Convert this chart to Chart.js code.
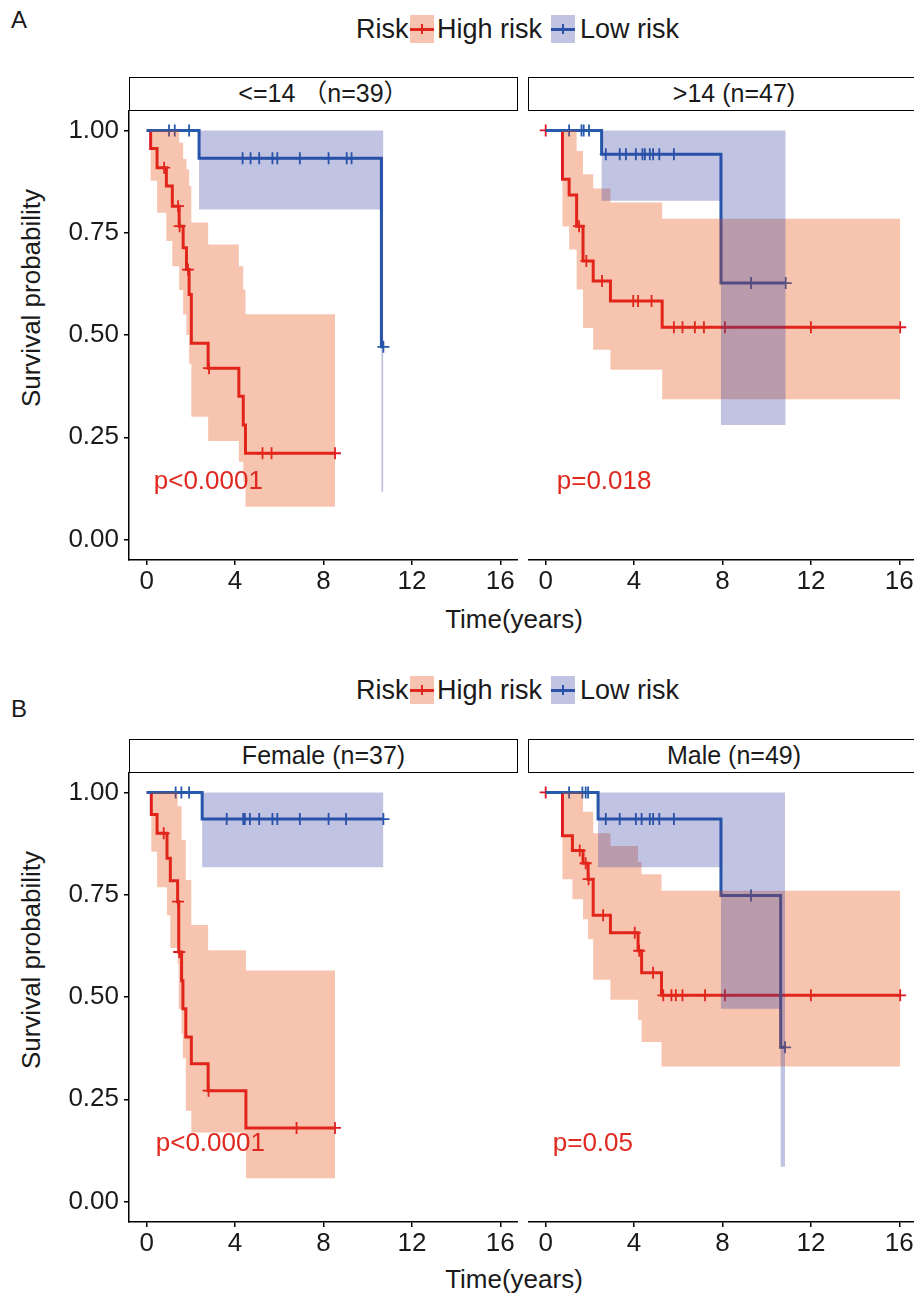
<!DOCTYPE html>
<html><head><meta charset="utf-8">
<script src="https://cdn.jsdelivr.net/npm/chart.js@4.4.1/dist/chart.umd.min.js"></script>
<style>
html,body{margin:0;padding:0;width:914px;height:1297px;overflow:hidden;background:#fff;
  font-family:"Liberation Sans",Arial,"Noto Sans CJK SC",sans-serif;color:#1a1a1a}
.abs{position:absolute;white-space:nowrap}
canvas{position:absolute}
.strip{position:absolute;border:1.5px solid #000;box-sizing:border-box;text-align:center;
  font-size:25px;line-height:31px;background:#fff;white-space:nowrap}
.key{position:absolute;width:24px;height:28px}
.key .ln{position:absolute;left:0;right:0;top:12.5px;height:3px}
.key .vt{position:absolute;left:11px;width:2px;top:9px;height:10px}
.ytitle{position:absolute;font-size:26px;white-space:nowrap;transform:translate(-50%,-50%) rotate(-90deg)}
.xtitle{position:absolute;font-size:26px;white-space:nowrap;transform:translate(-50%,-50%)}
.leg{position:absolute;font-size:27px;line-height:30px;white-space:nowrap}
</style>
</head><body>

<div class="abs" style="left:11px;top:7px;font-size:24px;line-height:26px">A</div>
<div class="abs" style="left:11px;top:696px;font-size:24px;line-height:26px">B</div>

<div class="leg" style="left:356px;top:14px">Risk</div>
<div class="key" style="left:410px;top:15px;background:#F7C4B1"><div class="ln" style="background:#E0281E"></div><div class="vt" style="background:#E0281E"></div></div>
<div class="leg" style="left:437px;top:14px">High risk</div>
<div class="key" style="left:551px;top:15px;background:#C0C4E2"><div class="ln" style="background:#2952A8"></div><div class="vt" style="background:#2952A8"></div></div>
<div class="leg" style="left:580px;top:14px">Low risk</div>

<div class="leg" style="left:356px;top:675px">Risk</div>
<div class="key" style="left:410px;top:676px;background:#F7C4B1"><div class="ln" style="background:#E0281E"></div><div class="vt" style="background:#E0281E"></div></div>
<div class="leg" style="left:437px;top:675px">High risk</div>
<div class="key" style="left:551px;top:676px;background:#C0C4E2"><div class="ln" style="background:#2952A8"></div><div class="vt" style="background:#2952A8"></div></div>
<div class="leg" style="left:580px;top:675px">Low risk</div>

<canvas id="cAL" width="459" height="490" style="left:59px;top:110px"></canvas>
<canvas id="cAR" width="389" height="490" style="left:528px;top:110px"></canvas>
<canvas id="cBL" width="459" height="490" style="left:59px;top:772px"></canvas>
<canvas id="cBR" width="389" height="490" style="left:528px;top:772px"></canvas>

<div class="strip" style="left:129px;top:77px;width:389px;height:34px">&lt;=14 （n=39）</div>
<div class="strip" style="left:528px;top:77px;width:412px;height:34px">&gt;14 (n=47)</div>
<div class="strip" style="left:129px;top:739px;width:389px;height:34px">Female (n=37)</div>
<div class="strip" style="left:528px;top:739px;width:412px;height:34px">Male (n=49)</div>

<div class="ytitle" style="left:31px;top:298px">Survival probability</div>
<div class="ytitle" style="left:31px;top:960px">Survival probability</div>
<div class="xtitle" style="left:514px;top:619px">Time(years)</div>
<div class="xtitle" style="left:514px;top:1279px">Time(years)</div>

<script>
// ---------- tick labels ----------
const X_TICKS = [0, 4, 8, 12, 16];
const Y_TICKS = [0, 0.25, 0.5, 0.75, 1];

// ---------- Panel A, <=14 (n=39) ----------
const aLLowTime   = [0, 2.37, 10.62, 10.71];
const aLLowSurv   = [1, 0.932, 0.471, 0.471];
const aLLowUpper  = [1, 1, 1, 1];
const aLLowLower  = [1, 0.807, 0.117, 0.117];
const aLLowCensor = [1.01, 1.27, 1.92, 4.34, 4.70, 5.09, 5.69, 5.91, 6.93, 8.23, 9.05, 9.27, 10.71];

const aLHighTime   = [0, 0.18, 0.47, 0.89, 1.16, 1.47, 1.65, 1.80, 1.92, 2.02, 2.78, 4.17, 4.37, 4.47, 8.52];
const aLHighSurv   = [1, 0.956, 0.909, 0.864, 0.815, 0.766, 0.713, 0.660, 0.599, 0.480, 0.419, 0.350, 0.280, 0.211, 0.211];
const aLHighUpper  = [1, 1, 1, 1, 1, 0.97, 0.93, 0.905, 0.864, 0.775, 0.721, 0.668, 0.611, 0.551, 0.551];
const aLHighLower  = [1, 0.877, 0.799, 0.730, 0.668, 0.61, 0.55, 0.50, 0.43, 0.30, 0.241, 0.19, 0.14, 0.080, 0.080];
const aLHighCensor = [0.79, 1.42, 1.49, 1.87, 2.82, 5.24, 5.65, 8.52];

// ---------- Panel A, >14 (n=47) ----------
const aRLowTime   = [0, 2.53, 7.93, 10.86];
const aRLowSurv   = [1, 0.942, 0.627, 0.627];
const aRLowUpper  = [1, 1, 1, 1];
const aRLowLower  = [1, 0.828, 0.280, 0.280];
const aRLowCensor = [1.06, 1.62, 1.72, 1.96, 2.72, 3.35, 3.63, 4.08, 4.38, 4.49, 4.71, 4.86, 5.14, 5.80, 9.29, 10.86];

const aRHighTime   = [0, 0.76, 1.06, 1.40, 1.69, 2.15, 2.93, 5.27, 16.04];
const aRHighSurv   = [1, 0.881, 0.842, 0.766, 0.681, 0.632, 0.583, 0.519, 0.519];
const aRHighUpper  = [1, 1, 1, 0.95, 0.893, 0.858, 0.824, 0.784, 0.784];
const aRHighLower  = [1, 0.765, 0.709, 0.611, 0.517, 0.464, 0.415, 0.343, 0.343];
const aRHighCensor = [0, 1.51, 1.84, 2.55, 3.96, 4.18, 4.79, 5.80, 6.19, 6.75, 7.16, 8.11, 12.0, 16.04];

// ---------- Panel B, Female (n=37) ----------
const bLLowTime   = [0, 2.51, 10.71];
const bLLowSurv   = [1, 0.935, 0.935];
const bLLowUpper  = [1, 1, 1];
const bLLowLower  = [1, 0.817, 0.817];
const bLLowCensor = [1.31, 1.57, 1.92, 3.62, 4.37, 4.44, 4.67, 5.09, 5.69, 5.91, 6.93, 8.23, 9.02, 10.71];

const bLHighTime   = [0, 0.21, 0.47, 0.92, 1.07, 1.40, 1.45, 1.58, 1.64, 1.77, 2.02, 2.78, 4.49, 8.52];
const bLHighSurv   = [1, 0.946, 0.900, 0.839, 0.784, 0.733, 0.610, 0.540, 0.471, 0.402, 0.337, 0.271, 0.180, 0.180];
const bLHighUpper  = [1, 1, 1, 1, 1, 0.966, 0.966, 0.884, 0.884, 0.786, 0.676, 0.614, 0.565, 0.565];
const bLHighLower  = [1, 0.855, 0.768, 0.70, 0.62, 0.58, 0.47, 0.41, 0.35, 0.222, 0.169, 0.169, 0.057, 0.057];
const bLHighCensor = [0.77, 1.42, 1.47, 2.80, 6.78, 8.52];

// ---------- Panel B, Male (n=49) ----------
const bRLowTime   = [0, 2.37, 7.93, 10.63, 10.83];
const bRLowSurv   = [1, 0.935, 0.748, 0.377, 0.377];
const bRLowUpper  = [1, 1, 1, 1, 1];
const bRLowLower  = [1, 0.817, 0.471, 0.085, 0.085];
const bRLowCensor = [1.06, 1.66, 1.81, 1.92, 2.72, 3.35, 4.08, 4.34, 4.71, 4.86, 5.14, 5.80, 9.29, 10.83];

const bRHighTime   = [0, 0.76, 1.21, 1.69, 1.92, 2.15, 2.93, 4.18, 4.34, 5.24, 16.04];
const bRHighSurv   = [1, 0.894, 0.858, 0.827, 0.788, 0.700, 0.657, 0.613, 0.559, 0.504, 0.504];
const bRHighUpper  = [1, 1, 1, 0.953, 0.953, 0.900, 0.869, 0.830, 0.800, 0.760, 0.760];
const bRHighLower  = [1, 0.788, 0.739, 0.690, 0.641, 0.542, 0.493, 0.443, 0.390, 0.330, 0.330];
const bRHighCensor = [0, 1.54, 1.81, 1.94, 2.60, 4.03, 4.23, 4.86, 5.32, 5.69, 5.89, 6.19, 7.21, 8.11, 12.0, 16.04];

// ---------- p-values ----------
const pLabels = ["p<0.0001", "p=0.018", "p<0.0001", "p=0.05"];

// ---------- styling ----------
const FONT = '"Liberation Sans", Arial, sans-serif';
const TEXT = '#1a1a1a';
const RED_LINE = 'rgb(224,22,36)';
const BLUE_LINE = 'rgb(38,90,172)';
const RED_FILL = 'rgba(230,70,10,0.32)';
const BLUE_FILL = 'rgba(45,58,158,0.30)';
const P_COLOR = '#E0281E';

Chart.defaults.font.family = FONT;
Chart.defaults.color = TEXT;

function pts(times, vals) { return times.map((t, i) => ({ x: t, y: vals[i] })); }
function survAt(times, surv, t) {
  let v = surv[0];
  for (let i = 0; i < times.length; i++) if (times[i] <= t + 1e-9) v = surv[i];
  return v;
}
function censorPts(times, surv, cens) { return cens.map(t => ({ x: t, y: survAt(times, surv, t) })); }

const pvalPlugin = {
  id: 'pval',
  afterDatasetsDraw(chart, args, opts) {
    const { ctx, scales: { x, y } } = chart;
    ctx.save();
    ctx.font = '26px ' + FONT;
    ctx.fillStyle = P_COLOR;
    ctx.textAlign = 'left';
    ctx.textBaseline = 'middle';
    ctx.fillText(opts.text, x.getPixelForValue(opts.x), y.getPixelForValue(opts.y));
    ctx.restore();
  }
};

function makePanel(id, high, low, pText, pX, showY) {
  const lineDs = (data, color, order) => ({
    data, borderColor: color, borderWidth: 3, stepped: true, pointRadius: 0,
    fill: false, tension: 0, order
  });
  const censDs = (data, color, order) => ({
    data, showLine: false, pointStyle: 'cross', pointRadius: 6, pointHoverRadius: 6,
    pointBorderWidth: 1.8, pointBorderColor: color, pointBackgroundColor: color, borderColor: color, order
  });
  const bandTop = (data) => ({
    data, borderWidth: 0, borderColor: 'rgba(0,0,0,0)', stepped: true, pointRadius: 0, fill: false, order: 10
  });
  const bandBot = (data, target, color, order) => ({
    data, borderWidth: 0, borderColor: 'rgba(0,0,0,0)', stepped: true, pointRadius: 0,
    fill: { target, above: color, below: color }, backgroundColor: color, order
  });
  const datasets = [
    lineDs(pts(high.t, high.s), RED_LINE, 5),                    // 0
    censDs(censorPts(high.t, high.s, high.c), RED_LINE, 4),      // 1
    lineDs(pts(low.t, low.s), BLUE_LINE, 3),                     // 2
    censDs(censorPts(low.t, low.s, low.c), BLUE_LINE, 2),        // 3
    bandTop(pts(high.t, high.u)),                                // 4
    bandBot(pts(high.t, high.l), 4, RED_FILL, 1),                // 5
    bandTop(pts(low.t, low.u)),                                  // 6
    bandBot(pts(low.t, low.l), 6, BLUE_FILL, 0)                  // 7
  ];
  new Chart(document.getElementById(id), {
    type: 'line',
    data: { datasets },
    plugins: [pvalPlugin],
    options: {
      responsive: false, animation: false, devicePixelRatio: 1,
      layout: { padding: 0, autoPadding: false },
      plugins: { legend: { display: false }, tooltip: { enabled: false },
        pval: { text: pText, x: pX, y: 0.14 } },
      events: [],
      scales: {
        x: {
          type: 'linear', min: -0.8, max: 16.8,
          afterBuildTicks: s => { s.ticks = X_TICKS.map(v => ({ value: v })); },
          afterFit: s => { s.height = 40; s.paddingLeft = 0; s.paddingRight = 0; },
          grid: { display: true, drawOnChartArea: false, drawTicks: true, tickLength: 5,
                  color: '#000', lineWidth: 1.5, tickWidth: 1.5, tickColor: '#000' },
          border: { display: true, color: '#000', width: 1.5 },
          ticks: { font: { size: 26, family: FONT }, color: TEXT, padding: 1, maxRotation: 0,
                   autoSkip: false, callback: v => String(v) }
        },
        y: {
          type: 'linear', min: -0.05, max: 1.05, display: showY,
          afterBuildTicks: s => { s.ticks = Y_TICKS.map(v => ({ value: v })); },
          afterFit: s => { s.width = showY ? 70 : 0; s.paddingTop = 0; s.paddingBottom = 0; },
          grid: { display: true, drawOnChartArea: false, drawTicks: true, tickLength: 5,
                  color: '#000', lineWidth: 1.5, tickWidth: 1.5, tickColor: '#000' },
          border: { display: true, color: '#000', width: 1.5 },
          ticks: { font: { size: 26, family: FONT }, color: TEXT, padding: 5,
                   callback: v => Number(v).toFixed(2) }
        }
      }
    }
  });
}

makePanel('cAL',
  { t: aLHighTime, s: aLHighSurv, u: aLHighUpper, l: aLHighLower, c: aLHighCensor },
  { t: aLLowTime, s: aLLowSurv, u: aLLowUpper, l: aLLowLower, c: aLLowCensor },
  pLabels[0], 0.32, true);
makePanel('cAR',
  { t: aRHighTime, s: aRHighSurv, u: aRHighUpper, l: aRHighLower, c: aRHighCensor },
  { t: aRLowTime, s: aRLowSurv, u: aRLowUpper, l: aRLowLower, c: aRLowCensor },
  pLabels[1], 0.5, false);
makePanel('cBL',
  { t: bLHighTime, s: bLHighSurv, u: bLHighUpper, l: bLHighLower, c: bLHighCensor },
  { t: bLLowTime, s: bLLowSurv, u: bLLowUpper, l: bLLowLower, c: bLLowCensor },
  pLabels[2], 0.41, true);
makePanel('cBR',
  { t: bRHighTime, s: bRHighSurv, u: bRHighUpper, l: bRHighLower, c: bRHighCensor },
  { t: bRLowTime, s: bRLowSurv, u: bRLowUpper, l: bRLowLower, c: bRLowCensor },
  pLabels[3], 0.32, false);
</script>
</body></html>
